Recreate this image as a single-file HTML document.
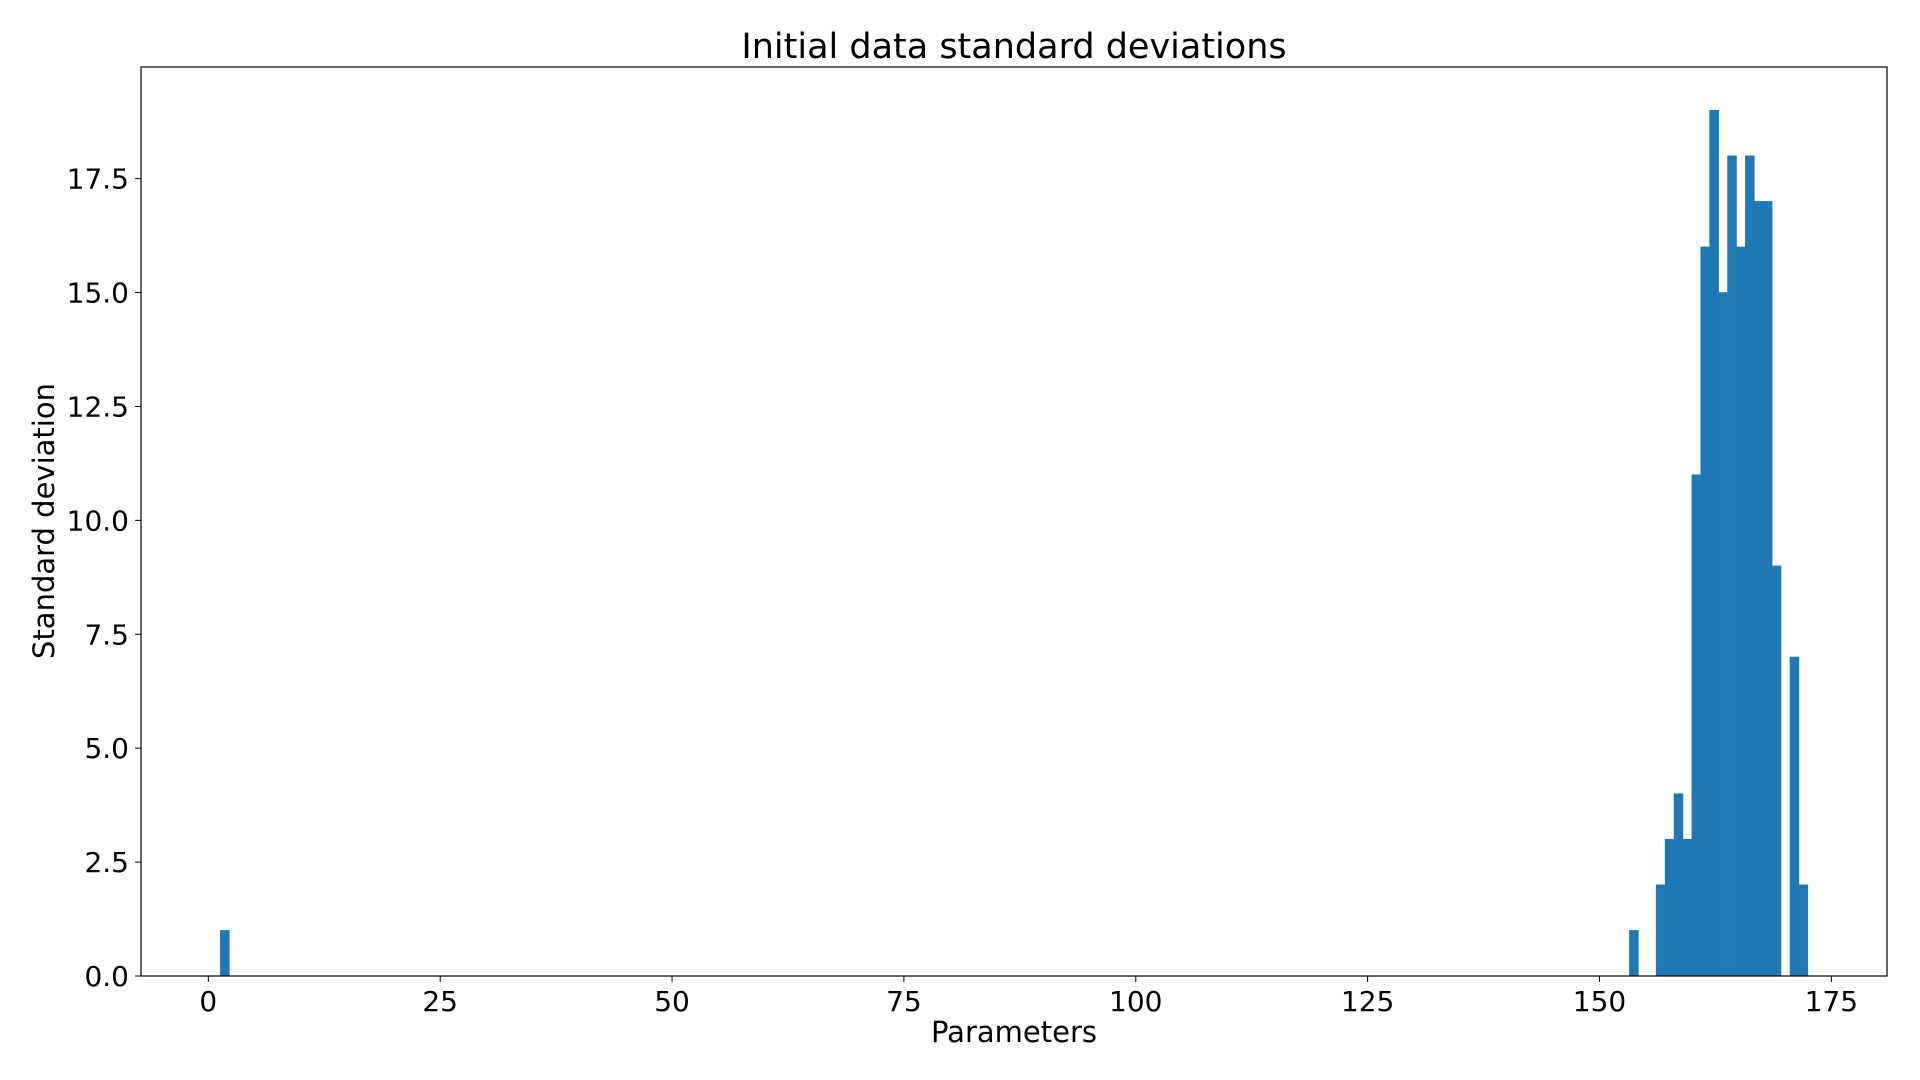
<!DOCTYPE html>
<html><head><meta charset="utf-8"><style>
html,body{margin:0;padding:0;background:#fff;}
svg{display:block;font-family:"DejaVu Sans","Liberation Sans",sans-serif;}
</style></head><body>
<svg id="chart" width="1920" height="1080" viewBox="0 0 1920 1080" xmlns="http://www.w3.org/2000/svg">
<rect width="1920" height="1080" fill="#fff"/>
<text x="1014" y="58" font-size="35" text-anchor="middle" fill="#000">Initial data standard deviations</text>
<g id="bars"></g>
<g id="axes"></g>
<text x="1014" y="1042" font-size="29" text-anchor="middle" fill="#000">Parameters</text>
<text transform="translate(54,521) rotate(-90)" font-size="29" text-anchor="middle" fill="#000">Standard deviation</text>
</svg>
<script>
const binLefts = [1.30, 153.23, 156.11, 157.08, 158.04, 159.00, 159.96, 160.92, 161.88, 162.84, 163.81, 164.77, 165.73, 166.69, 167.65, 168.61, 170.54, 171.50];
const counts = [1, 1, 2, 3, 4, 3, 11, 16, 19, 15, 18, 16, 18, 17, 17, 9, 7, 2];
const binWidth = 0.9616;
const xTicks = [0, 25, 50, 75, 100, 125, 150, 175];
const yTicks = [0, 2.5, 5, 7.5, 10, 12.5, 15, 17.5];
const yTickLabels = ["0.0","2.5","5.0","7.5","10.0","12.5","15.0","17.5"];

const L=141,R=1887,T=67,B=976;
const xMin=-7.26,xMax=181.0,yMin=0,yMax=19.95;
const xs=v=>L+(v-xMin)/(xMax-xMin)*(R-L);
const ys=v=>B-(v-yMin)/(yMax-yMin)*(B-T);
const NS="http://www.w3.org/2000/svg";
const bars=document.getElementById('bars');
binLefts.forEach((x,i)=>{
  const r=document.createElementNS(NS,'rect');
  const x1=xs(x),x2=xs(x+binWidth);
  r.setAttribute('x',x1);r.setAttribute('width',x2-x1);
  r.setAttribute('y',ys(counts[i]));r.setAttribute('height',ys(0)-ys(counts[i]));
  r.setAttribute('fill','#1f77b4');
  r.setAttribute('stroke','#1f77b4');
  r.setAttribute('stroke-width','0.6');
  
  
  bars.appendChild(r);
});
const ax=document.getElementById('axes');
const frame=document.createElementNS(NS,'rect');
frame.setAttribute('x',L);frame.setAttribute('y',T);frame.setAttribute('width',R-L);frame.setAttribute('height',B-T);
frame.setAttribute('fill','none');frame.setAttribute('stroke','#000');frame.setAttribute('stroke-width','1.2');


ax.appendChild(frame);
xTicks.forEach(v=>{
  const x=xs(v);
  const l=document.createElementNS(NS,'line');
  l.setAttribute('x1',x);l.setAttribute('x2',x);l.setAttribute('y1',B);l.setAttribute('y2',B+6);l.setAttribute('stroke','#000');
  
  
  ax.appendChild(l);
  const t=document.createElementNS(NS,'text');
  t.setAttribute('x',x);t.setAttribute('y',B+35);t.setAttribute('font-size','28');t.setAttribute('text-anchor','middle');
  t.textContent=v;
  
  
  ax.appendChild(t);
});
yTicks.forEach((v,i)=>{
  const y=ys(v);
  const l=document.createElementNS(NS,'line');
  l.setAttribute('x1',L-6);l.setAttribute('x2',L);l.setAttribute('y1',y);l.setAttribute('y2',y);l.setAttribute('stroke','#000');
  
  
  ax.appendChild(l);
  const t=document.createElementNS(NS,'text');
  t.setAttribute('x',L-12);t.setAttribute('y',y+10);t.setAttribute('font-size','28');t.setAttribute('text-anchor','end');
  t.textContent=yTickLabels[i];
  
  
  ax.appendChild(t);
});
</script>
</body></html>
